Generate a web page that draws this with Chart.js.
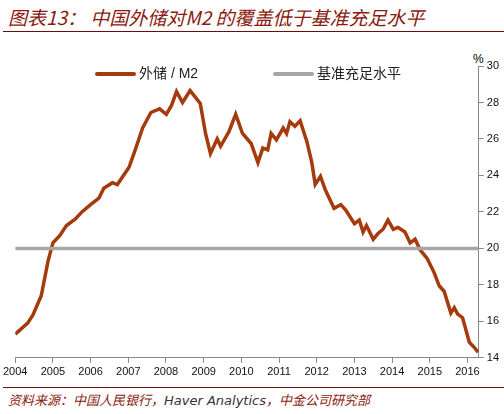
<!DOCTYPE html>
<html><head><meta charset="utf-8">
<script src="https://cdn.jsdelivr.net/npm/chart.js@4"></script>
<style>
body{margin:0;width:504px;height:414px;background:#fff;font-family:"Noto Sans CJK SC",sans-serif;position:relative;overflow:hidden}
#title{position:absolute;left:8px;top:3px;font-size:19px;font-style:italic;color:#8b1a10;letter-spacing:0px}
#tline{position:absolute;left:3px;right:0;top:31px;border-top:1px solid #6b0d0d}
#fline{position:absolute;left:3px;right:0;top:387px;border-top:1px solid #6b0d0d}
#foot{position:absolute;left:8px;top:390px;font-size:13px;font-style:italic;color:#8b1a10}
#foot b{font-weight:normal;font-family:"DejaVu Sans";color:#333}
#wrap{position:absolute;left:0;top:52px;width:504px;height:330px}
.leg{position:absolute;top:62px;font-size:14px;font-family:Arial,"Liberation Sans","Noto Sans CJK SC";color:#222}
.leg i{display:inline-block;width:41px;height:4px;border-radius:2px;vertical-align:middle;margin-right:3px}
#pct{position:absolute;left:473px;top:52px;font-size:12px;font-family:"Liberation Sans"}
</style></head><body>
<div id="title">图表13： 中国外储对M2 的覆盖低于基准充足水平</div>
<div id="tline"></div>
<div id="pct">%</div>
<div id="wrap"><canvas id="c"></canvas></div>
<div class="leg" style="left:95px"><i style="background:#a53a0c"></i>外储 / M2</div>
<div class="leg" style="left:273px"><i style="background:#a6a6a6"></i>基准充足水平</div>
<div id="fline"></div>
<div id="foot">资料来源：中国人民银行，<b>Haver Analytics</b>，中金公司研究部</div>
<script>
// year (decimal), value in %
var years = [2004.0,2004.33,2004.47,2004.69,2004.87,2005.0,2005.18,2005.36,2005.59,2005.77,2006.0,2006.22,2006.35,2006.58,2006.71,2006.89,2007.02,2007.2,2007.38,2007.6,2007.83,2008.01,2008.15,2008.28,2008.44,2008.64,2008.91,2009.05,2009.18,2009.36,2009.45,2009.67,2009.85,2010.03,2010.26,2010.44,2010.57,2010.7,2010.79,2010.93,2011.11,2011.2,2011.29,2011.42,2011.56,2011.74,2011.87,2011.96,2012.1,2012.23,2012.46,2012.64,2012.77,2013.0,2013.13,2013.23,2013.32,2013.5,2013.62,2013.76,2013.89,2014.03,2014.16,2014.34,2014.48,2014.61,2014.75,2014.93,2015.11,2015.25,2015.38,2015.56,2015.65,2015.74,2015.87,2016.05,2016.19,2016.28];
var reservesToM2 = [15.3,15.9,16.35,17.4,19.3,20.3,20.7,21.25,21.6,22.0,22.4,22.75,23.3,23.6,23.5,24.05,24.45,25.5,26.6,27.45,27.65,27.35,27.85,28.6,28.0,28.65,27.95,26.3,25.2,26.0,25.6,26.4,27.35,26.3,25.75,24.7,25.5,25.4,26.3,25.95,26.6,26.3,26.95,26.7,27.0,25.85,24.7,23.5,23.95,23.2,22.2,22.4,22.1,21.35,21.55,20.9,21.25,20.5,20.8,21.05,21.55,21.05,21.15,20.9,20.3,20.5,19.9,19.45,18.7,17.95,17.65,16.45,16.75,16.4,16.2,14.85,14.55,14.3];
var benchmark = 20;
var yTicks = [14,16,18,20,22,24,26,28,30];

var mainPts = years.map(function(x, i){ return {x: x, y: reservesToM2[i]}; });
var benchPts = [{x: 2004, y: benchmark}, {x: 2016.3, y: benchmark}];

new Chart(document.getElementById('c'), {
  type: 'line',
  data: {datasets: [
    {label: '基准充足水平', data: benchPts, borderColor: '#a6a6a6', borderWidth: 3.5, pointRadius: 0},
    {label: '外储 / M2', data: mainPts, borderColor: '#a53a0c', borderWidth: 3.5, pointRadius: 0, tension: 0}
  ]},
  options: {
    responsive: true, maintainAspectRatio: false, animation: false,
    layout: {padding: {left: 9, right: 2, top: 14, bottom: 0}},
    plugins: {legend: {display: false}, tooltip: {enabled: false}},
    scales: {
      x: {type: 'linear', min: 2004, max: 2016.3,
          afterBuildTicks: function(ax){ ax.ticks = []; for (var y = 2004; y <= 2016; y++) ax.ticks.push({value: y}); },
          grid: {display: true, drawOnChartArea: false, drawTicks: true, tickLength: 5, color: '#888'},
          border: {color: '#888'},
          ticks: {font: {size: 11, family: 'Liberation Sans'}, color: '#111', maxRotation: 0, callback: function(v){ return v; }}},
      y: {position: 'right', min: 14, max: 30,
          afterBuildTicks: function(ax){ ax.ticks = yTicks.map(function(v){ return {value: v}; }); },
          grid: {display: true, drawOnChartArea: false, tickLength: 5, color: '#888'},
          border: {color: '#888'},
          ticks: {font: {size: 11, family: 'Liberation Sans'}, color: '#111'}}
    }
  }
});
</script>
</body></html>
